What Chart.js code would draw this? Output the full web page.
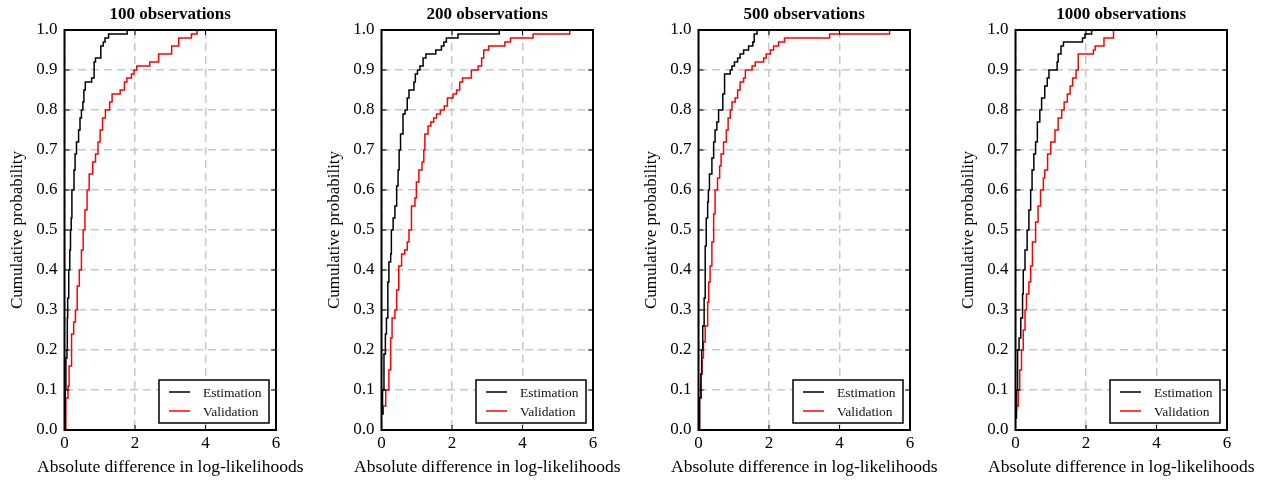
<!DOCTYPE html>
<html>
<head>
<meta charset="utf-8">
<script src="https://cdn.jsdelivr.net/npm/chart.js@4/dist/chart.umd.min.js"></script>
<style>
  body { margin: 0; background: #fff; overflow: hidden; }
  .panel { position: absolute; top: 0; width: 317px; height: 482px; }
</style>
</head>
<body>
<div class="panel" style="left:0px"><canvas id="obs-100" width="317" height="482"></canvas></div>
<div class="panel" style="left:317px"><canvas id="obs-200" width="317" height="482"></canvas></div>
<div class="panel" style="left:634px"><canvas id="obs-500" width="317" height="482"></canvas></div>
<div class="panel" style="left:951px"><canvas id="obs-1000" width="317" height="482"></canvas></div>
<script>
// Panel titles, axis labels and series names
var titles = ['100 observations', '200 observations', '500 observations', '1000 observations'];
var seriesNames = ['Estimation', 'Validation'];
var xLabel = 'Absolute difference in log-likelihoods';
var yLabel = 'Cumulative probability';
var xTicks = [0, 2, 4, 6];
var yTicks = [0, 0.1, 0.2, 0.3, 0.4, 0.5, 0.6, 0.7, 0.8, 0.9, 1.0];

// 100 observations
var est100X = [0, 0.02, 0.04, 0.07, 0.08, 0.09, 0.12, 0.15, 0.17, 0.19, 0.21, 0.27, 0.30, 0.34, 0.40, 0.44, 0.48, 0.52, 0.55, 0.59, 0.77, 0.84, 0.88, 1.03, 1.10, 1.15, 1.25, 1.78];
var est100Y = [0, 0.10, 0.18, 0.20, 0.28, 0.33, 0.40, 0.45, 0.50, 0.53, 0.60, 0.65, 0.69, 0.72, 0.75, 0.78, 0.80, 0.82, 0.85, 0.87, 0.88, 0.92, 0.93, 0.96, 0.97, 0.98, 0.99, 1.0];
var val100X = [0.03, 0.04, 0.10, 0.13, 0.20, 0.26, 0.31, 0.36, 0.42, 0.48, 0.53, 0.58, 0.64, 0.70, 0.80, 0.88, 0.95, 1.01, 1.08, 1.16, 1.28, 1.35, 1.58, 1.70, 1.77, 1.90, 1.97, 2.05, 2.42, 2.67, 3.04, 3.24, 3.60, 3.76];
var val100Y = [0, 0.08, 0.11, 0.16, 0.24, 0.27, 0.30, 0.36, 0.40, 0.45, 0.50, 0.55, 0.60, 0.64, 0.67, 0.69, 0.72, 0.75, 0.78, 0.80, 0.82, 0.84, 0.85, 0.87, 0.88, 0.89, 0.90, 0.91, 0.92, 0.94, 0.96, 0.98, 0.99, 1.0];

// 200 observations
var est200X = [0, 0.03, 0.07, 0.11, 0.14, 0.18, 0.21, 0.26, 0.28, 0.33, 0.38, 0.43, 0.47, 0.50, 0.54, 0.61, 0.67, 0.73, 0.78, 0.92, 0.96, 1.02, 1.09, 1.18, 1.26, 1.54, 1.70, 1.77, 1.84, 2.17, 3.34];
var est200Y = [0.04, 0.10, 0.19, 0.24, 0.28, 0.37, 0.42, 0.44, 0.50, 0.53, 0.56, 0.61, 0.65, 0.70, 0.74, 0.79, 0.80, 0.83, 0.85, 0.87, 0.89, 0.90, 0.91, 0.93, 0.94, 0.95, 0.96, 0.97, 0.98, 0.99, 1.0];
var val200X = [0, 0.05, 0.12, 0.21, 0.26, 0.30, 0.38, 0.43, 0.49, 0.57, 0.66, 0.73, 0.78, 0.85, 0.95, 0.99, 1.06, 1.15, 1.20, 1.23, 1.32, 1.40, 1.48, 1.56, 1.67, 1.78, 1.87, 2.03, 2.13, 2.22, 2.30, 2.55, 2.74, 2.84, 2.90, 3.04, 3.50, 3.66, 4.30, 5.34];
var val200Y = [0.04, 0.06, 0.10, 0.15, 0.23, 0.28, 0.30, 0.35, 0.41, 0.44, 0.45, 0.47, 0.50, 0.56, 0.58, 0.62, 0.65, 0.67, 0.70, 0.74, 0.76, 0.77, 0.78, 0.79, 0.80, 0.81, 0.83, 0.84, 0.85, 0.87, 0.88, 0.90, 0.91, 0.93, 0.95, 0.96, 0.97, 0.98, 0.99, 1.0];

// 500 observations
var est500X = [0, 0.03, 0.07, 0.09, 0.12, 0.16, 0.19, 0.22, 0.26, 0.28, 0.31, 0.38, 0.43, 0.47, 0.52, 0.57, 0.69, 0.74, 0.90, 0.95, 1.02, 1.11, 1.18, 1.28, 1.42, 1.54, 1.58, 1.66];
var est500Y = [0, 0.08, 0.14, 0.20, 0.26, 0.33, 0.46, 0.53, 0.57, 0.60, 0.64, 0.68, 0.72, 0.75, 0.77, 0.80, 0.84, 0.89, 0.90, 0.91, 0.92, 0.93, 0.94, 0.95, 0.96, 0.97, 0.99, 1.0];
var val500X = [0, 0.03, 0.07, 0.10, 0.14, 0.19, 0.26, 0.29, 0.33, 0.38, 0.43, 0.47, 0.54, 0.60, 0.64, 0.71, 0.79, 0.84, 0.90, 0.95, 1.04, 1.11, 1.18, 1.28, 1.33, 1.52, 1.61, 1.85, 1.92, 2.04, 2.13, 2.27, 2.44, 3.72, 5.42];
var val500Y = [0, 0.08, 0.14, 0.18, 0.22, 0.26, 0.32, 0.37, 0.41, 0.47, 0.54, 0.60, 0.63, 0.66, 0.69, 0.72, 0.75, 0.78, 0.80, 0.82, 0.83, 0.85, 0.87, 0.88, 0.90, 0.91, 0.92, 0.93, 0.94, 0.95, 0.96, 0.97, 0.98, 0.99, 1.0];

// 1000 observations
var est1000X = [0, 0.02, 0.03, 0.06, 0.10, 0.15, 0.20, 0.22, 0.27, 0.33, 0.38, 0.43, 0.47, 0.52, 0.57, 0.62, 0.69, 0.74, 0.83, 0.90, 0.95, 1.18, 1.21, 1.29, 1.36, 1.90, 1.97, 2.16];
var est1000Y = [0.03, 0.05, 0.10, 0.20, 0.23, 0.28, 0.34, 0.40, 0.45, 0.50, 0.55, 0.60, 0.65, 0.69, 0.72, 0.77, 0.80, 0.83, 0.86, 0.88, 0.90, 0.92, 0.94, 0.96, 0.97, 0.98, 0.99, 1.0];
var val1000X = [0, 0.03, 0.08, 0.12, 0.17, 0.22, 0.27, 0.31, 0.38, 0.43, 0.48, 0.57, 0.64, 0.71, 0.79, 0.83, 0.91, 1.00, 1.12, 1.21, 1.31, 1.38, 1.47, 1.55, 1.62, 1.72, 1.78, 2.21, 2.26, 2.51, 2.78];
var val1000Y = [0.03, 0.06, 0.10, 0.15, 0.20, 0.25, 0.30, 0.34, 0.37, 0.41, 0.47, 0.52, 0.56, 0.60, 0.63, 0.65, 0.69, 0.72, 0.75, 0.78, 0.80, 0.82, 0.84, 0.86, 0.88, 0.90, 0.94, 0.95, 0.96, 0.98, 1.0];

var serif = 'Liberation Serif';

function pts(xs, ys) {
  return xs.map(function (x, i) { return { x: x, y: ys[i] }; });
}

// frame, inward ticks, boxed legend and x label (wider than the plot, so not squeezed)
var framePlugin = {
  id: 'frame',
  afterDatasetsDraw: function (chart) {
    var ctx = chart.ctx, a = chart.chartArea;
    var sx = chart.scales.x, sy = chart.scales.y;
    ctx.save();
    ctx.strokeStyle = '#000';
    ctx.lineWidth = 1;
    ctx.beginPath();
    xTicks.forEach(function (t) {
      var px = sx.getPixelForValue(t);
      ctx.moveTo(px, a.bottom); ctx.lineTo(px, a.bottom - 5);
      ctx.moveTo(px, a.top); ctx.lineTo(px, a.top + 5);
    });
    yTicks.forEach(function (t) {
      var py = sy.getPixelForValue(t);
      ctx.moveTo(a.left, py); ctx.lineTo(a.left + 5, py);
      ctx.moveTo(a.right, py); ctx.lineTo(a.right - 5, py);
    });
    ctx.stroke();
    ctx.lineWidth = 2;
    ctx.strokeRect(a.left, a.top, a.right - a.left, a.bottom - a.top);

    // legend box
    var w = 110, h = 43;
    var bx = a.right - 7 - w, by = a.bottom - 7 - h;
    ctx.fillStyle = '#fff';
    ctx.fillRect(bx, by, w, h);
    ctx.lineWidth = 1.5;
    ctx.strokeRect(bx, by, w, h);
    ctx.font = '13.5px "' + serif + '"';
    ctx.textBaseline = 'middle';
    ctx.textAlign = 'left';
    chart.data.datasets.forEach(function (ds, i) {
      var ly = by + 12 + i * 19;
      ctx.strokeStyle = ds.borderColor;
      ctx.lineWidth = 1.5;
      ctx.beginPath();
      ctx.moveTo(bx + 10, ly); ctx.lineTo(bx + 31, ly);
      ctx.stroke();
      ctx.fillStyle = '#111';
      ctx.fillText(ds.label, bx + 44, ly + 1);
    });

    // x axis label
    ctx.fillStyle = '#000';
    ctx.font = '17.5px "' + serif + '"';
    ctx.textAlign = 'center';
    ctx.fillText(xLabel, (a.left + a.right) / 2, 467);
    ctx.restore();
  }
};

function makePanel(id, title, est, val) {
  var ctx = document.getElementById(id).getContext('2d');
  return new Chart(ctx, {
    type: 'line',
    data: {
      datasets: [{
        label: seriesNames[0],
        data: est,
        borderColor: '#000000',
        borderWidth: 1.5,
        pointRadius: 0,
        stepped: 'before',
        fill: false
      }, {
        label: seriesNames[1],
        data: val,
        borderColor: '#ff0000',
        borderWidth: 1.5,
        pointRadius: 0,
        stepped: 'before',
        fill: false
      }]
    },
    options: {
      responsive: false,
      animation: false,
      devicePixelRatio: 1,
      layout: { padding: { left: 0, right: 41, top: 0, bottom: 0 } },
      plugins: {
        legend: { display: false },
        tooltip: { enabled: false },
        title: {
          display: true,
          text: title,
          fullSize: false,
          color: '#000',
          font: { family: serif, size: 17, weight: 'bold' },
          padding: { top: 4.3, bottom: 5.3 }
        }
      },
      scales: {
        x: {
          type: 'linear',
          min: 0,
          max: 6,
          afterFit: function (s) { s.height = 52; },
          afterBuildTicks: function (s) { s.ticks = xTicks.map(function (v) { return { value: v }; }); },
          ticks: { color: '#000', padding: 3, font: { family: serif, size: 17 } },
          grid: { color: '#c8c8c8', lineWidth: 1.5, drawTicks: false },
          border: { display: false, dash: [8, 5] },
          title: { display: false }
        },
        y: {
          min: 0,
          max: 1,
          afterFit: function (s) { s.width = 64.5; },
          afterBuildTicks: function (s) { s.ticks = yTicks.map(function (v) { return { value: v }; }); },
          ticks: {
            color: '#000',
            padding: 7,
            font: { family: serif, size: 17 },
            callback: function (v) { return Number(v).toFixed(1); }
          },
          grid: { color: '#c8c8c8', lineWidth: 1.5, drawTicks: false },
          border: { display: false, dash: [8, 5] },
          title: {
            display: true,
            text: yLabel,
            color: '#000',
            font: { family: serif, size: 17 },
            padding: { top: 7, bottom: 0 }
          }
        }
      }
    },
    plugins: [framePlugin]
  });
}

makePanel('obs-100', titles[0], pts(est100X, est100Y), pts(val100X, val100Y));
makePanel('obs-200', titles[1], pts(est200X, est200Y), pts(val200X, val200Y));
makePanel('obs-500', titles[2], pts(est500X, est500Y), pts(val500X, val500Y));
makePanel('obs-1000', titles[3], pts(est1000X, est1000Y), pts(val1000X, val1000Y));
</script>
</body>
</html>
